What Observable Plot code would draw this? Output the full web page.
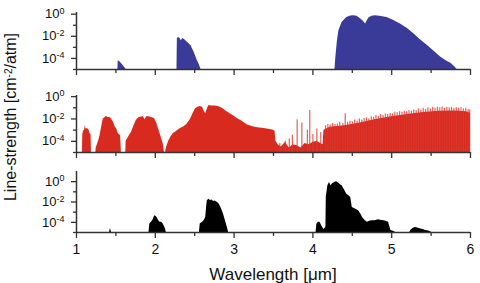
<!DOCTYPE html>
<html><head><meta charset="utf-8">
<script src="https://cdn.jsdelivr.net/npm/d3@7"></script>
<script src="https://cdn.jsdelivr.net/npm/@observablehq/plot@0.6"></script>
<style>
body{margin:0;background:#fff;}
#chart{position:relative;width:480px;height:283px;font-family:"Liberation Sans",Arial,sans-serif;color:#111;overflow:hidden;}
#chart svg{position:absolute;left:0;background:transparent;}
.lab{position:absolute;white-space:nowrap;line-height:1;}
.lab sup{font-size:10px;vertical-align:0.45em;line-height:0;}
</style></head><body><div id="chart"></div>
<script>
// x ticks (wavelength, µm)
const xMajor = [1, 2, 3, 4, 5, 6];
const xMinor = [1.5, 2.5, 3.5, 4.5, 5.5];
// y ticks: log10 exponents
const yMajorExp = [0, -2, -4];
const yMinorExp = [-1, -3, -5];

// Top panel (blue): [wavelength, log10 line-strength]
const blueBands = [[1.0,-5],[1.525,-5],[1.53,-4.2],[1.55,-4.3],[1.57,-4.45],[1.60,-4.7],[1.63,-5],
 [2.275,-5],[2.28,-2.2],[2.29,-2.13],[2.31,-2.15],[2.33,-2.4],[2.35,-2.2],[2.37,-2.3],[2.40,-2.5],[2.43,-2.7],[2.45,-2.8],[2.47,-3.1],[2.49,-3.4],[2.51,-3.75],[2.53,-4.15],[2.56,-4.6],[2.58,-5],
 [4.28,-5],[4.29,-4.0],[4.31,-2.5],[4.33,-1.5],[4.37,-0.75],[4.43,-0.3],[4.48,-0.17],[4.52,-0.15],[4.56,-0.2],[4.60,-0.39],[4.64,-0.65],[4.67,-0.89],[4.69,-0.6],[4.71,-0.35],[4.75,-0.2],[4.79,-0.15],[4.85,-0.18],[4.94,-0.3],[5.02,-0.55],[5.11,-0.89],[5.20,-1.3],[5.28,-1.78],[5.36,-2.3],[5.45,-2.82],[5.53,-3.3],[5.62,-3.86],[5.69,-4.2],[5.75,-4.44],[5.80,-4.75],[5.83,-5],[6.0,-5]];

// Middle panel (red): solid envelope
const redBands = [[1.0,-5],[1.075,-5],[1.08,-3.4],[1.09,-3.0],[1.10,-3.1],[1.11,-2.6],[1.12,-2.9],[1.14,-2.85],[1.16,-3.0],[1.17,-3.3],[1.185,-3.4],[1.19,-5],
 [1.245,-5],[1.25,-4.6],[1.28,-4.0],[1.30,-3.45],[1.32,-2.7],[1.34,-2.0],[1.36,-1.9],[1.38,-1.75],[1.40,-1.9],[1.42,-1.85],[1.44,-1.95],[1.47,-2.3],[1.49,-2.7],[1.51,-2.9],[1.53,-3.3],[1.56,-3.5],[1.57,-5],
 [1.625,-5],[1.63,-4.0],[1.67,-3.5],[1.70,-3.16],[1.73,-2.6],[1.76,-2.12],[1.79,-1.9],[1.82,-1.83],[1.85,-1.8],[1.87,-2.06],[1.89,-1.8],[1.92,-1.8],[1.96,-1.9],[1.99,-1.95],[2.02,-2.4],[2.04,-2.86],[2.06,-3.3],[2.08,-3.74],[2.10,-4.2],[2.115,-4.9],[2.12,-5],
 [2.13,-5],[2.14,-4.6],[2.17,-4.0],[2.20,-3.6],[2.23,-3.3],[2.26,-3.16],[2.30,-2.95],[2.33,-2.8],[2.36,-2.72],[2.40,-2.5],[2.43,-2.2],[2.45,-1.98],[2.48,-1.5],[2.51,-1.09],[2.54,-0.95],[2.57,-0.88],[2.60,-0.95],[2.62,-1.3],[2.64,-1.53],[2.66,-1.1],[2.68,-0.80],[2.72,-0.85],[2.76,-0.85],[2.80,-0.88],[2.85,-1.05],[2.90,-1.3],[2.95,-1.53],[3.00,-1.75],[3.05,-2.0],[3.08,-2.12],[3.12,-2.3],[3.17,-2.55],[3.22,-2.65],[3.25,-2.72],[3.30,-2.78],[3.35,-2.83],[3.38,-2.86],[3.42,-2.9],[3.46,-2.95],[3.50,-3.0],[3.52,-3.1],[3.53,-4.0],[3.56,-4.3],
 [3.60,-4.5],[3.65,-4.1],[3.70,-4.6],[3.75,-4.3],[3.80,-4.4],[3.85,-4.6],[3.90,-4.2],[3.95,-4.3],[4.00,-4.1],[4.05,-4.0],[4.10,-4.2],[4.13,-4.3],
 [4.14,-3.0],[4.22,-2.75],[4.40,-2.6],[4.60,-2.35],[4.80,-2.05],[5.00,-1.8],[5.20,-1.6],[5.40,-1.42],[5.60,-1.3],[5.80,-1.28],[5.95,-1.35],[6.0,-1.5]];
// Middle panel (red): individual strong lines above the envelope
const redSpikes = [[3.58,-4.2],[3.65,-4.0],[3.70,-3.8],[3.74,-3.45],[3.80,-2.06],[3.86,-2.36],[3.93,-3.0],[3.96,-1.24],[4.00,-3.4],[4.05,-2.9],[4.10,-3.2],
 [4.16,-2.6],[4.19,-2.5],[4.22,-2.55],[4.25,-2.4],[4.28,-2.5],[4.31,-2.45],[4.34,-2.3],[4.38,-2.4],[4.41,-1.53],[4.44,-2.3],[4.47,-2.2],[4.50,-2.25],[4.53,-2.1],[4.56,-2.2],[4.59,-2.0],[4.62,-2.1],[4.65,-1.95],[4.68,-1.9],[4.71,-2.0],[4.74,-1.8],[4.77,-1.85],[4.80,-1.7],[4.83,-1.75],[4.86,-1.6],[4.89,-1.7],[4.92,-1.55],[4.95,-1.6],[4.98,-1.5],[5.01,-1.55],[5.04,-1.4],[5.07,-1.45],[5.10,-1.35],[5.13,-1.4],[5.16,-1.3],[5.19,-1.35],[5.22,-1.25],[5.25,-1.3],[5.28,-1.2],[5.31,-1.25],[5.34,-1.1],[5.37,-1.2],[5.40,-1.05],[5.43,-1.15],[5.46,-1.0],[5.49,-1.1],[5.52,-0.95],[5.55,-1.05],[5.58,-0.95],[5.61,-1.0],[5.64,-0.94],[5.67,-1.05],[5.70,-0.95],[5.73,-1.0],[5.76,-0.97],[5.79,-1.05],[5.82,-1.0],[5.85,-1.05],[5.88,-1.0],[5.91,-1.1],[5.94,-1.05],[5.97,-1.15],[5.99,-1.2]];

// Bottom panel (black)
const blackBands = [[1.0,-5],[1.42,-5],[1.43,-4.6],[1.445,-5],[1.92,-5],[1.93,-4.2],[1.95,-4.0],[1.97,-3.8],[1.99,-3.4],[2.00,-3.35],[2.02,-3.5],[2.04,-3.8],[2.06,-4.0],[2.08,-4.0],[2.10,-4.17],[2.13,-4.66],[2.14,-5],
 [2.56,-5],[2.57,-4.17],[2.60,-4.0],[2.62,-3.84],[2.64,-3.5],[2.655,-2.2],[2.66,-1.88],[2.68,-1.72],[2.70,-1.85],[2.72,-1.8],[2.74,-1.95],[2.76,-1.9],[2.79,-2.05],[2.81,-2.2],[2.83,-2.5],[2.85,-2.86],[2.87,-3.3],[2.89,-3.84],[2.92,-4.66],[2.93,-5],
 [4.04,-5],[4.05,-4.2],[4.07,-4.0],[4.09,-4.0],[4.11,-4.3],[4.14,-4.7],[4.165,-4.5],[4.17,-1.5],[4.19,-0.4],[4.21,-0.09],[4.23,-0.41],[4.25,-0.2],[4.28,-0.05],[4.30,-0.02],[4.33,-0.15],[4.35,-0.3],[4.37,-0.41],[4.40,-0.8],[4.43,-1.23],[4.46,-1.4],[4.48,-1.56],[4.50,-2.54],[4.54,-2.7],[4.58,-2.86],[4.61,-3.2],[4.63,-3.52],[4.66,-3.8],[4.69,-4.0],[4.72,-3.9],[4.75,-3.85],[4.79,-3.84],[4.83,-3.75],[4.86,-3.8],[4.90,-3.85],[4.93,-3.9],[4.96,-4.0],[4.99,-4.8],[5.03,-4.9],[5.05,-5],
 [5.23,-5],[5.24,-4.8],[5.27,-4.6],[5.30,-4.5],[5.33,-4.55],[5.37,-4.66],[5.40,-4.7],[5.43,-4.8],[5.47,-4.85],[5.51,-5],[6.0,-5]];

const chart = document.getElementById("chart");
const AX = "#333";

function panel({bands, spikes, color, spikeColor, top, height, mt, mb, yTopExp, labels}) {
  const rows = bands.map(([w, e]) => ({w, s: 10 ** e}));
  const marks = [
    Plot.areaY(rows, {x: "w", y1: 1e-5, y2: "s", fill: color, curve: "linear"})
  ];
  if (spikes) marks.push(Plot.ruleX(spikes, {x: d => d[0], y1: 1e-5, y2: d => 10 ** d[1], stroke: spikeColor, strokeWidth: 1.2, strokeOpacity: 0.8}));
  marks.push(
    Plot.ruleY([1e-5], {stroke: AX, strokeWidth: 1.5}),
    Plot.ruleX([1], {stroke: AX, strokeWidth: 1.5}),
    Plot.axisY(yMajorExp.map(e => 10 ** e), {tickSize: 5, tickPadding: 7, stroke: AX, strokeWidth: 1.3, fontSize: 13, fill: "#111", label: null, tickFormat: d => "10^" + Math.round(Math.log10(d))}),
    Plot.axisY(yMinorExp.map(e => 10 ** e), {tickSize: 3, stroke: AX, strokeWidth: 1.3, label: null, tickFormat: () => ""}),
    Plot.axisX(xMajor, {tickSize: 6, tickPadding: 6, stroke: AX, strokeWidth: 1.3, fontSize: 14, fill: "#111", label: null, tickFormat: labels ? (d => String(d)) : () => ""}),
    Plot.axisX(xMinor, {tickSize: 4, stroke: AX, strokeWidth: 1.3, label: null, tickFormat: () => ""})
  );
  const svg = Plot.plot({
    width: 480, height, marginLeft: 76, marginRight: 10, marginTop: mt, marginBottom: mb,
    style: {fontFamily: '"Liberation Sans", Arial, sans-serif', background: "transparent"},
    x: {domain: [1, 6]},
    y: {type: "log", domain: [1e-5, 10 ** yTopExp]},
    marks
  });
  svg.style.top = top + "px";
  // superscripts for 10^n labels
  svg.querySelectorAll("text").forEach(t => {
    const s = t.textContent;
    if (s.includes("^")) {
      const [b, p] = s.split("^");
      t.textContent = b;
      const ts = document.createElementNS("http://www.w3.org/2000/svg", "tspan");
      ts.setAttribute("font-size", "9");
      ts.setAttribute("dy", "-0.5em");
      ts.textContent = p.replace("\u2212", "-");
      t.appendChild(ts);
    }
  });
  chart.appendChild(svg);
}

panel({bands: blueBands, color: "#3a3a98", top: 0, height: 76, mt: 12, mb: 7, yTopExp: 0.15});
panel({bands: redBands, spikes: redSpikes, color: "#d92a20", spikeColor: "#dc3a30", top: 80, height: 80, mt: 15, mb: 8, yTopExp: 0.1});
panel({bands: blackBands, color: "#000", top: 160, height: 100, mt: 11, mb: 28, yTopExp: 1, labels: true});

const xl = document.createElement("div");
xl.className = "lab";
xl.style.cssText = "left:273px;top:266px;font-size:17px;transform:translateX(-50%);";
xl.innerHTML = "Wavelength [\u03bcm]";
chart.appendChild(xl);

const yl = document.createElement("div");
yl.className = "lab";
yl.style.cssText = "left:11px;top:117px;font-size:16px;transform:translate(-50%,-50%) rotate(-90deg);";
yl.innerHTML = "Line-strength [cm<sup>-2</sup>/atm]";
chart.appendChild(yl);
</script>
</body></html>
